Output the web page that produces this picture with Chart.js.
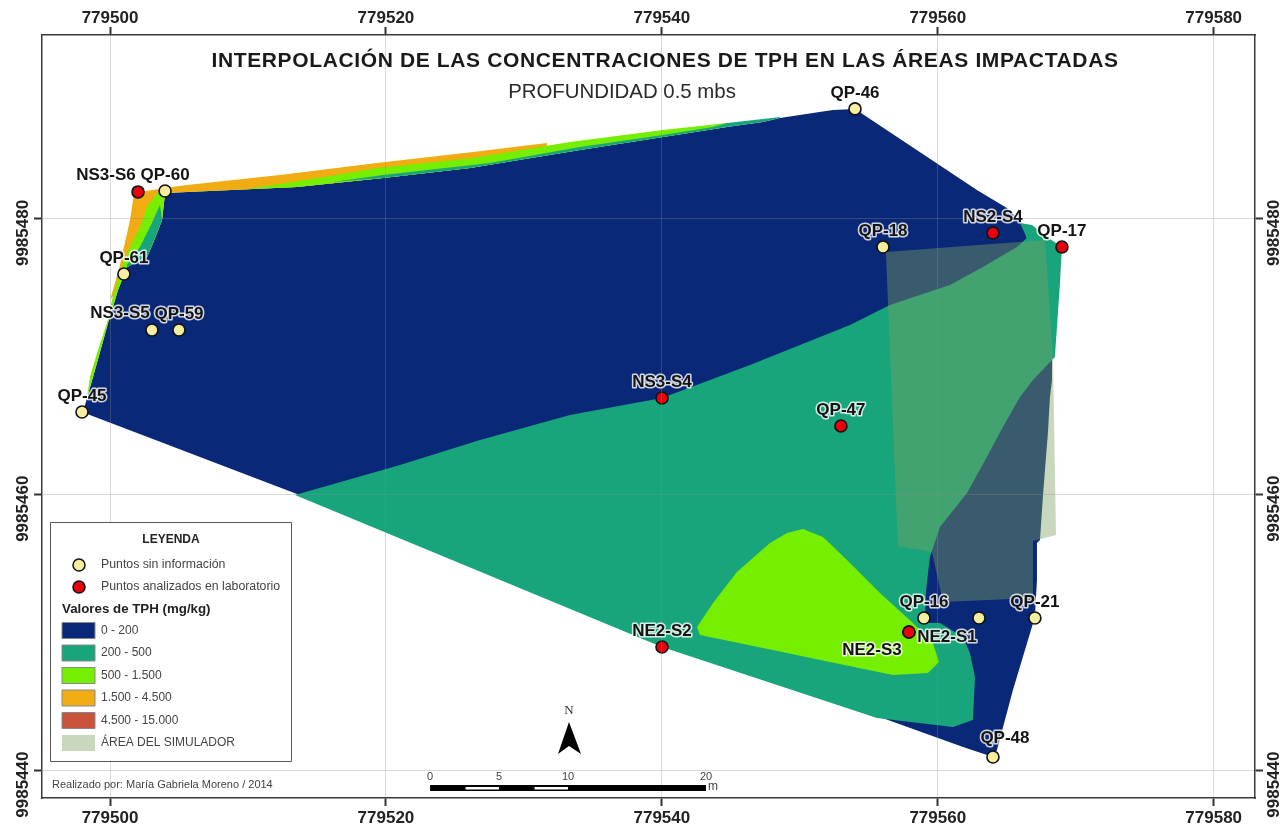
<!DOCTYPE html>
<html>
<head>
<meta charset="utf-8">
<title>TPH</title>
<script src="https://cdn.jsdelivr.net/npm/chart.js@4"></script>
<style>
  html, body { margin: 0; padding: 0; background: #fff; }
  canvas { display: block; }
</style>
</head>
<body>
<canvas id="myChart" width="1283" height="828"></canvas>
<script>
'use strict';

let eastTicks = [779500, 779520, 779540, 779560, 779580];
let northTicks = [9985440, 9985460, 9985480];

// sample points, [east, north]
let noInfoNames = ['QP-46', 'QP-18', 'QP-60', 'QP-61', 'NS3-S5', 'QP-59', 'QP-45', 'QP-16', '', 'QP-21', 'QP-48'];
let noInfoPoints = [[779554.00, 9985487.98], [779556.03, 9985477.97], [779503.99, 9985482.03], [779501.01, 9985476.01],
    [779503.04, 9985471.95], [779505.00, 9985471.95], [779497.97, 9985466.00], [779559.00, 9985451.06],
    [779562.99, 9985451.06], [779567.04, 9985451.06], [779564.00, 9985440.98]];
let labNames = ['NS2-S4', 'QP-17', 'NS3-S6', 'NS3-S4', 'QP-47', 'NE2-S1', 'NE2-S3', 'NE2-S2'];
let labPoints = [[779564.00, 9985478.98], [779569.00, 9985477.97], [779502.03, 9985481.96], [779540.01, 9985467.02],
    [779552.98, 9985464.99], [779557.91, 9985450.05], [779557.91, 9985450.05], [779540.01, 9985448.96]];

// interpolated zones, [east, north]
let blueZone = [[779497.97, 9985466.00], [779498.19, 9985466.51], [779498.77, 9985468.54], [779499.86, 9985472.46],
    [779500.58, 9985474.85], [779501.23, 9985476.52], [779502.68, 9985477.24], [779503.12, 9985478.26],
    [779503.77, 9985479.93], [779503.99, 9985481.89], [779513.55, 9985482.32], [779519.79, 9985482.97],
    [779526.09, 9985483.70], [779534.07, 9985485.00], [779540.08, 9985485.95], [779544.72, 9985486.67],
    [779547.33, 9985487.03], [779548.56, 9985487.32], [779550.95, 9985487.69], [779552.40, 9985487.90],
    [779554.00, 9985487.98], [779562.84, 9985482.10], [779565.01, 9985480.80], [779566.10, 9985479.71],
    [779566.46, 9985478.62], [779567.41, 9985474.13], [779568.13, 9985470.14], [779568.28, 9985469.77],
    [779568.28, 9985468.32], [779568.13, 9985467.09], [779567.99, 9985464.55], [779567.77, 9985461.80],
    [779567.62, 9985459.84], [779567.41, 9985456.72], [779567.19, 9985456.50], [779567.19, 9985453.82],
    [779567.04, 9985451.14], [779565.45, 9985445.84], [779564.29, 9985441.49], [779564.00, 9985440.98],
    [779561.83, 9985441.71], [779555.59, 9985443.96], [779540.01, 9985449.18], [779513.55, 9985460.06],
    [779497.97, 9985466.00]];
let tealZone = [[779513.41, 9985459.98], [779540.01, 9985448.96], [779555.59, 9985443.81], [779561.10, 9985443.16],
    [779562.55, 9985443.67], [779562.70, 9985446.79], [779562.33, 9985448.53], [779561.83, 9985449.69],
    [779560.16, 9985450.70], [779559.07, 9985450.70], [779559.14, 9985452.95], [779559.43, 9985455.49],
    [779560.16, 9985457.66], [779562.12, 9985460.13], [779563.56, 9985462.74], [779564.72, 9985464.92],
    [779565.96, 9985467.09], [779566.90, 9985468.32], [779568.28, 9985469.77], [779568.49, 9985469.99],
    [779568.86, 9985475.36], [779569.00, 9985477.97], [779567.91, 9985478.69], [779566.83, 9985479.56],
    [779565.96, 9985479.71], [779566.46, 9985478.62], [779565.74, 9985477.97], [779563.27, 9985476.52],
    [779560.88, 9985475.21], [779556.53, 9985473.76], [779553.64, 9985472.31], [779546.39, 9985469.41],
    [779540.01, 9985467.02], [779533.34, 9985465.79], [779526.82, 9985463.97], [779521.02, 9985462.16],
    [779513.41, 9985459.98]];
let limeZone = [[779550.23, 9985457.52], [779551.68, 9985456.94], [779553.42, 9985455.27], [779555.81, 9985452.88],
    [779558.20, 9985450.70], [779559.65, 9985449.25], [779560.09, 9985447.87], [779559.29, 9985447.08],
    [779556.75, 9985446.93], [779552.19, 9985447.87], [779547.33, 9985448.89], [779542.76, 9985449.83],
    [779542.55, 9985450.41], [779543.71, 9985452.15], [779545.44, 9985454.40], [779547.84, 9985456.50],
    [779549.07, 9985457.23], [779550.23, 9985457.52]];
let orangeBand = [[779500.00, 9985474.13], [779500.36, 9985475.36], [779500.72, 9985476.66], [779501.45, 9985479.93],
    [779501.74, 9985481.89], [779503.99, 9985482.25], [779505.58, 9985482.47], [779512.32, 9985483.19],
    [779519.35, 9985484.06], [779526.31, 9985484.86], [779531.67, 9985485.51], [779531.67, 9985484.64],
    [779526.09, 9985483.70], [779519.79, 9985482.97], [779513.55, 9985482.32], [779503.99, 9985481.89],
    [779503.77, 9985479.93], [779503.12, 9985478.26], [779502.68, 9985477.24], [779501.23, 9985476.52],
    [779500.58, 9985474.85], [779500.00, 9985474.13]];
let limeBand = [[779498.33, 9985467.09], [779498.55, 9985468.54], [779499.06, 9985470.28], [779499.78, 9985472.46],
    [779500.14, 9985474.13], [779500.51, 9985475.36], [779500.94, 9985476.81], [779501.45, 9985477.97],
    [779502.17, 9985479.42], [779502.68, 9985480.87], [779503.48, 9985481.96], [779503.99, 9985481.89],
    [779509.93, 9985482.18], [779515.95, 9985483.12], [779519.35, 9985483.70], [779526.31, 9985484.42],
    [779533.34, 9985485.58], [779540.08, 9985486.45], [779544.72, 9985486.96], [779544.72, 9985486.67],
    [779540.08, 9985485.95], [779534.07, 9985485.00], [779526.09, 9985483.70], [779519.79, 9985482.97],
    [779513.55, 9985482.32], [779503.99, 9985481.89], [779503.77, 9985479.93], [779503.12, 9985478.26],
    [779502.68, 9985477.24], [779501.23, 9985476.52], [779500.58, 9985474.85], [779499.86, 9985472.46],
    [779498.77, 9985468.54], [779498.33, 9985467.09]];
let tealBandTop = [[779516.16, 9985482.68], [779519.79, 9985483.19], [779527.54, 9985484.06], [779534.07, 9985485.22],
    [779540.08, 9985486.09], [779543.71, 9985486.67], [779544.72, 9985486.96], [779547.33, 9985487.25],
    [779548.56, 9985487.40], [779548.56, 9985487.32], [779547.33, 9985487.03], [779544.72, 9985486.67],
    [779540.08, 9985485.95], [779534.07, 9985485.00], [779526.09, 9985483.70], [779519.79, 9985482.97],
    [779516.16, 9985482.68]];
let tealBandLeft = [[779503.62, 9985481.02], [779503.04, 9985479.71], [779502.17, 9985477.97], [779501.23, 9985476.66],
    [779501.23, 9985476.52], [779502.68, 9985477.24], [779503.12, 9985478.26], [779503.77, 9985479.93],
    [779503.62, 9985481.02]];
let simulatorArea = [[779556.24, 9985477.61], [779567.77, 9985478.48], [779568.35, 9985469.99], [779568.57, 9985457.08],
    [779566.90, 9985456.65], [779566.90, 9985452.51], [779560.37, 9985452.22], [779559.58, 9985455.85],
    [779557.11, 9985456.29], [779556.24, 9985477.61]];

let mapTitle = 'INTERPOLACIÓN DE LAS CONCENTRACIONES DE TPH EN LAS ÁREAS IMPACTADAS';
let mapSubtitle = 'PROFUNDIDAD 0.5 mbs';
let authorNote = 'Realizado por: María Gabriela Moreno / 2014';
let rangeLabels = ['0 - 200', '200 - 500', '500 - 1.500', '1.500 - 4.500', '4.500 - 15.000', 'ÁREA DEL SIMULADOR'];
let scaleBarLabels = [0, 5, 10, 20];

let BLUE = '#0a2878';
let TEAL = '#18a57c';
let LIME = '#76ee00';
let ORANGE = '#f0ac12';
let BRICK = '#c8523a';
let SIM = '#c9d7bd';
let YELLOW = '#f5eda0';
let RED = '#e8000f';
let rangeColors = [BLUE, TEAL, LIME, ORANGE, BRICK, SIM];

let SANS = '"Liberation Sans", Arial, sans-serif';

// where each name sits relative to its marker, in pixels
let labelShift = {
    'NS3-S6': [-32, -17], 'NS3-S5': [-32, -17], 'NE2-S1': [38, 5], 'NE2-S3': [-37, 18], 'QP-48': [12, -19]
};

function zone(points, color) {
    return {
        data: points, showLine: true, fill: 'shape', backgroundColor: color, borderWidth: 0,
        pointRadius: 0, pointHoverRadius: 0, tension: 0
    };
}

function markers(points, color) {
    return {
        data: points, showLine: false, backgroundColor: color, borderColor: '#111', borderWidth: 1.6,
        pointRadius: 6, pointStyle: 'circle'
    };
}

function drawNames(chart, names, points) {
    let ctx = chart.ctx;
    ctx.font = 'bold 17px ' + SANS;
    ctx.textAlign = 'center';
    ctx.textBaseline = 'middle';
    ctx.lineJoin = 'round';
    // the unnamed point stays in the list so names and points keep the same index
    let p = 0;
    for (let i = 0; i < names.length; i++) {
        let point = points[p];
        p++;
        if (names[i] === '') continue;
        let shift = labelShift[names[i]] || [0, -16];
        let px = chart.scales.x.getPixelForValue(point[0]) + shift[0];
        let py = chart.scales.y.getPixelForValue(point[1]) + shift[1];
        ctx.lineWidth = 3;
        ctx.strokeStyle = 'rgba(255,255,255,0.8)';
        ctx.strokeText(names[i], px, py);
        ctx.fillStyle = '#141414';
        ctx.fillText(names[i], px, py);
    }
}

function drawLegend(ctx) {
    ctx.fillStyle = '#fff';
    ctx.fillRect(50, 522, 242, 240);
    ctx.strokeStyle = '#555';
    ctx.lineWidth = 1;
    ctx.strokeRect(50.5, 522.5, 241, 239);

    ctx.textBaseline = 'middle';
    ctx.textAlign = 'center';
    ctx.fillStyle = '#222';
    ctx.font = 'bold 12px ' + SANS;
    ctx.fillText('LEYENDA', 171, 540);

    ctx.textAlign = 'left';
    let rows = [[YELLOW, 'Puntos sin información', 565], [RED, 'Puntos analizados en laboratorio', 587]];
    rows.forEach(function (row) {
        ctx.beginPath();
        ctx.arc(79, row[2], 6, 0, Math.PI * 2);
        ctx.fillStyle = row[0];
        ctx.fill();
        ctx.strokeStyle = '#111';
        ctx.lineWidth = 1.5;
        ctx.stroke();
        ctx.fillStyle = '#444';
        ctx.font = '12.3px ' + SANS;
        ctx.fillText(row[1], 101, row[2]);
    });

    ctx.fillStyle = '#222';
    ctx.font = 'bold 13.3px ' + SANS;
    ctx.fillText('Valores de TPH (mg/kg)', 62, 609);

    ctx.font = '12px ' + SANS;
    for (let i = 0; i < rangeLabels.length; i++) {
        let top = 622.5 + i * 22.5;
        ctx.fillStyle = rangeColors[i];
        ctx.fillRect(62, top, 33, 16);
        if (i < 5) {
            ctx.strokeStyle = '#888';
            ctx.lineWidth = 1;
            ctx.strokeRect(62, top, 33, 16);
        }
        ctx.fillStyle = '#444';
        ctx.fillText(rangeLabels[i], 101, top + 8);
    }
}

function drawNorth(ctx) {
    ctx.fillStyle = '#333';
    ctx.font = '13px "Liberation Serif", serif';
    ctx.textAlign = 'center';
    ctx.textBaseline = 'middle';
    ctx.fillText('N', 569, 711);
    ctx.fillStyle = '#000';
    ctx.beginPath();
    ctx.moveTo(569, 722);
    ctx.lineTo(581, 754);
    ctx.lineTo(569, 746);
    ctx.lineTo(558, 754);
    ctx.closePath();
    ctx.fill();
}

function drawScaleBar(chart) {
    let ctx = chart.ctx;
    let x = chart.scales.x;
    let start = 779523.2;
    let left = x.getPixelForValue(start);
    let right = x.getPixelForValue(start + 20);
    ctx.fillStyle = '#000';
    ctx.fillRect(left, 785, right - left, 6);
    ctx.fillStyle = '#fff';
    [2.5, 7.5].forEach(function (m) {
        let a = x.getPixelForValue(start + m);
        let b = x.getPixelForValue(start + m + 2.5);
        ctx.fillRect(a + 1, 787, b - a - 1, 2.5);
    });
    ctx.fillStyle = '#444';
    ctx.font = '11px ' + SANS;
    ctx.textAlign = 'center';
    ctx.textBaseline = 'middle';
    scaleBarLabels.forEach(function (m) {
        ctx.fillText(String(m), x.getPixelForValue(start + m), 777);
    });
    ctx.font = '12px ' + SANS;
    ctx.fillText('m', right + 7, 787);
}

let mapDecor = {
    id: 'mapDecor',
    afterDraw: function (chart) {
        let ctx = chart.ctx;
        ctx.save();
        drawNames(chart, noInfoNames, noInfoPoints);
        drawNames(chart, labNames, labPoints);

        ctx.textAlign = 'center';
        ctx.textBaseline = 'middle';
        ctx.fillStyle = '#1a1a1a';
        ctx.font = 'bold 21px ' + SANS;
        ctx.letterSpacing = '0.63px';
        ctx.fillText(mapTitle, 665, 61);
        ctx.letterSpacing = '0px';
        ctx.fillStyle = '#2a2a2a';
        ctx.font = '20.4px ' + SANS;
        ctx.fillText(mapSubtitle, 622, 92);

        drawLegend(ctx);
        ctx.fillStyle = '#444';
        ctx.font = '11px ' + SANS;
        ctx.textAlign = 'left';
        ctx.textBaseline = 'middle';
        ctx.fillText(authorNote, 52, 785);
        drawNorth(ctx);
        drawScaleBar(chart);
        ctx.restore();
    }
};

function axis(position, isEast, main, size) {
    return {
        type: 'linear',
        position: position,
        min: isEast ? 779495.07 : 9985438.01,
        max: isEast ? 779582.995 : 9985493.34,
        afterBuildTicks: function (scale) {
            scale.ticks = (isEast ? eastTicks : northTicks).map(function (v) { return { value: v }; });
        },
        afterFit: function (scale) {
            if (isEast) scale.height = size; else scale.width = size;
        },
        grid: {
            drawOnChartArea: main,
            z: 1,
            color: 'rgba(140,140,140,0.32)',
            lineWidth: 1,
            tickColor: '#333',
            tickWidth: 2,
            tickLength: 8
        },
        border: { display: true, color: '#3a3a3a', width: 1.5, z: 1 },
        ticks: {
            autoSkip: false,
            includeBounds: false,
            color: '#222',
            font: { family: SANS, size: 17, weight: 'bold' },
            padding: isEast ? (position === 'top' ? 9 : 12) : -22,
            labelOffset: isEast ? 0 : 14,
            minRotation: isEast ? 0 : 90,
            maxRotation: isEast ? 0 : 90,
            crossAlign: 'center',
            callback: function (v) { return String(v); }
        }
    };
}

let ctx = document.getElementById('myChart').getContext('2d');

// first dataset ends up on top
let chart = new Chart(ctx, {
    type: 'scatter',
    data: {
        datasets: [
            markers(labPoints, RED),
            markers(noInfoPoints, YELLOW),
            zone(simulatorArea, 'rgba(126,160,98,0.42)'),
            zone(limeZone, LIME),
            zone(tealBandTop, TEAL),
            zone(tealBandLeft, TEAL),
            zone(limeBand, LIME),
            zone(orangeBand, ORANGE),
            zone(tealZone, TEAL),
            zone(blueZone, BLUE)
        ]
    },
    options: {
        responsive: false,
        animation: false,
        layout: { padding: 0 },
        plugins: { legend: { display: false }, tooltip: { enabled: false }, title: { display: false } },
        scales: {
            x: axis('bottom', true, true, 30),
            x2: axis('top', true, false, 35),
            y: axis('left', false, true, 42),
            y2: axis('right', false, false, 28)
        }
    },
    plugins: [mapDecor]
});
</script>
</body>
</html>
